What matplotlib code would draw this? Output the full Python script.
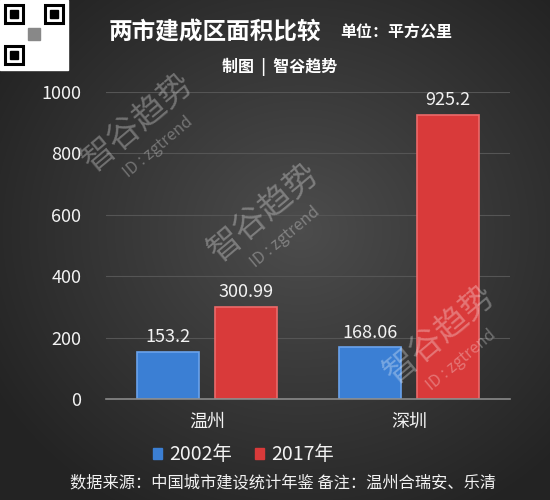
import numpy as np
import matplotlib
matplotlib.use("Agg")
import matplotlib.pyplot as plt
from matplotlib.patches import Rectangle, Patch

plt.rcParams['font.family'] = ['Noto Sans CJK SC', 'DejaVu Sans']

# data
cities = ['温州', '深圳']
years = ['2002年', '2017年']
area_2002 = [153.2, 168.06]
area_2017 = [300.99, 925.2]
yticks = [0, 200, 400, 600, 800, 1000]

blue = '#3b7fd4'
red = '#d93a3a'
txt = '#f2f2f2'

fig = plt.figure(figsize=(5.5, 5), dpi=100)

# dark radial background
bg = fig.add_axes([0, 0, 1, 1], zorder=-10)
yy, xx = np.mgrid[0:500, 0:550]
r = np.sqrt(((xx - 300) / 330) ** 2 + ((yy - 230) / 300) ** 2)
shade = np.clip(0.30 - 0.15 * r, 0.14, 0.30)
bg.imshow(np.dstack([shade] * 3), extent=[0, 550, 500, 0], aspect='auto')
bg.set_xlim(0, 550)
bg.set_ylim(500, 0)
bg.axis('off')

# QR code stand-in
bg.add_patch(Rectangle((0, 0), 68, 70, color='white'))
for (qx, qy) in [(5, 5), (45, 5), (5, 46)]:
    bg.add_patch(Rectangle((qx, qy), 18, 18, fill=False, ec='black', lw=2.2))
    bg.add_patch(Rectangle((qx + 5, qy + 5), 8, 8, color='black'))
bg.add_patch(Rectangle((28, 28), 12, 12, color='#888888'))

ax = fig.add_axes([0.193, 0.202, 0.734, 0.614])
ax.set_facecolor('none')
x = np.arange(len(cities))
w = 0.307
off = 0.193
b1 = ax.bar(x - off, area_2002, w, color=blue, edgecolor='#6aa3ec', linewidth=1.2, label=years[0])
b2 = ax.bar(x + off, area_2017, w, color=red, edgecolor='#ec6a6a', linewidth=1.2, label=years[1])

for bars, vals in [(b1, area_2002), (b2, area_2017)]:
    for b, v in zip(bars, vals):
        ax.text(b.get_x() + b.get_width() / 2, v + 18, f'{v:g}', ha='center', va='bottom',
                color=txt, fontsize=13)

ax.set_xlim(-0.5, 1.5)
ax.set_ylim(0, 1000)
ax.set_yticks(yticks)
ax.set_yticklabels([str(t) for t in yticks])
ax.set_xticks(x)
ax.set_xticklabels(cities)
ax.tick_params(axis='y', length=0, pad=18, labelsize=13, labelcolor=txt)
ax.tick_params(axis='x', length=0, pad=10, labelsize=13, labelcolor=txt)
ax.grid(axis='y', color='#555555', lw=0.8)
ax.set_axisbelow(True)
for s in ['top', 'right', 'left']:
    ax.spines[s].set_visible(False)
ax.spines['bottom'].set_color('#8a8a8a')
ax.spines['bottom'].set_linewidth(1.2)

handles = [Patch(color=blue), Patch(color=red)]
fig.legend(handles, years, loc='center', bbox_to_anchor=(0.443, 0.09), ncol=2, frameon=False,
           fontsize=14, labelcolor=txt, handlelength=0.45, handleheight=0.45,
           handletextpad=0.35, columnspacing=1.2)

# titles and notes
fig.text(0.39, 0.934, '两市建成区面积比较', ha='center', va='center', color='white',
         fontsize=17, fontweight='bold')
fig.text(0.72, 0.934, '单位：平方公里', ha='center', va='center', color='white',
         fontsize=11.5, fontweight='bold')
fig.text(0.508, 0.866, '制图  |  智谷趋势', ha='center', va='center', color='white',
         fontsize=11.5, fontweight='bold')
fig.text(0.514, 0.034, '数据来源：中国城市建设统计年鉴 备注：温州合瑞安、乐清', ha='center',
         va='center', color=txt, fontsize=11.7)

# watermarks
for (wx, wy) in [(0.25, 0.755), (0.48, 0.575), (0.80, 0.33)]:
    fig.text(wx, wy, '智谷趋势', rotation=40, ha='center', va='center', color='white',
             alpha=0.3, fontsize=24)
    fig.text(wx + 0.038, wy - 0.05, 'ID : zgtrend', rotation=40, ha='center', va='center',
             color='white', alpha=0.3, fontsize=11.5)

fig.savefig('out.png', dpi=100)
